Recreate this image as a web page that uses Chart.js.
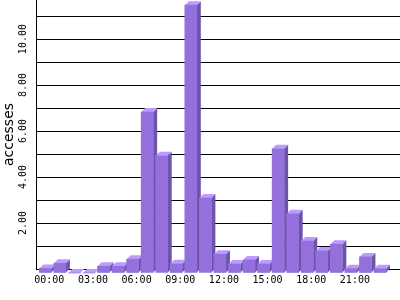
<!DOCTYPE html>
<html>
<head>
<meta charset="utf-8">
<script src="https://cdn.jsdelivr.net/npm/chart.js@4.4.1/dist/chart.umd.min.js"></script>
<style>
  html, body { margin: 0; padding: 0; background: #fff; }
  canvas { display: block; }
</style>
</head>
<body>
<canvas id="barChart" width="400" height="300"></canvas>
<script>
// accesses per hour of day
const hourLabels = ['00:00', '01:00', '02:00', '03:00', '04:00', '05:00', '06:00', '07:00',
                    '08:00', '09:00', '10:00', '11:00', '12:00', '13:00', '14:00', '15:00',
                    '16:00', '17:00', '18:00', '19:00', '20:00', '21:00', '22:00', '23:00'];
const accesses = [0.2, 0.42, 0, 0, 0.29, 0.29, 0.6, 7.0,
                  5.1, 0.4, 11.65, 3.26, 0.82, 0.39, 0.57, 0.39,
                  5.4, 2.58, 1.39, 0.96, 1.25, 0.19, 0.7, 0.19];
const xTickLabels = ['00:00', '03:00', '06:00', '09:00', '12:00', '15:00', '18:00', '21:00'];
const yGridValues = [0, 1, 2, 3, 4, 5, 6, 7, 8, 9, 10, 11];
const yTickValues = [2, 4, 6, 8, 10];

const DEPTH = 4;
const frontColor = '#9370DB';
const topColor = '#BC9AFF';
const sideColor = '#6C55A9';

// draws top + side faces, then shifts the front faces down/left
const bars3d = {
    id: 'bars3d',
    beforeDatasetsDraw(chart) {
        const ctx = chart.ctx;
        const meta = chart.getDatasetMeta(0);
        ctx.save();
        meta.data.forEach(bar => {
            const p = bar.getProps(['x', 'y', 'base', 'width'], true);
            const xl = p.x - p.width / 2;
            const xr = p.x + p.width / 2;
            ctx.fillStyle = sideColor;
            ctx.beginPath();
            ctx.moveTo(xr - DEPTH, p.y + DEPTH);
            ctx.lineTo(xr, p.y);
            ctx.lineTo(xr, p.base);
            ctx.lineTo(xr - DEPTH, p.base + DEPTH);
            ctx.closePath();
            ctx.fill();
            ctx.fillStyle = topColor;
            ctx.beginPath();
            ctx.moveTo(xl - DEPTH, p.y + DEPTH);
            ctx.lineTo(xl, p.y);
            ctx.lineTo(xr, p.y);
            ctx.lineTo(xr - DEPTH, p.y + DEPTH);
            ctx.closePath();
            ctx.fill();
        });
        ctx.restore();
        ctx.save();
        ctx.translate(-DEPTH, DEPTH);
    },
    afterDatasetsDraw(chart) {
        chart.ctx.restore();
    }
};

// y tick labels are drawn rotated
const rotatedYTicks = {
    id: 'rotatedYTicks',
    afterDraw(chart) {
        const ctx = chart.ctx;
        const yScale = chart.scales.y;
        ctx.save();
        ctx.fillStyle = '#000';
        ctx.font = '10px "DejaVu Sans Mono"';
        ctx.textAlign = 'center';
        ctx.textBaseline = 'middle';
        yTickValues.forEach(v => {
            ctx.save();
            ctx.translate(23, yScale.getPixelForValue(v));
            ctx.rotate(-Math.PI / 2);
            ctx.fillText(v.toFixed(2), 0, 0);
            ctx.restore();
        });
        ctx.restore();
    }
};

const ctx = document.getElementById('barChart').getContext('2d');
const myChart = new Chart(ctx, {
    type: 'bar',
    data: {
        datasets: [{
            label: 'accesses',
            data: accesses.map((v, i) => ({ x: i, y: v })),
            backgroundColor: frontColor,
            borderWidth: 0,
            barThickness: 12,
            clip: false
        }]
    },
    options: {
        responsive: false,
        animation: false,
        devicePixelRatio: 1,
        layout: { padding: 0 },
        plugins: {
            legend: { display: false },
            tooltip: { enabled: false }
        },
        scales: {
            x: {
                type: 'linear',
                offset: false,
                min: -0.914,
                max: 24.1,
                afterFit: scale => { scale.height = 31; },
                afterBuildTicks: scale => {
                    scale.ticks = xTickLabels.map(l => ({ value: hourLabels.indexOf(l) }));
                },
                grid: { display: false, drawTicks: false },
                border: { display: true, color: '#000', width: 1 },
                ticks: {
                    padding: 5,
                    color: '#000',
                    maxRotation: 0,
                    autoSkip: false,
                    font: { family: '"DejaVu Sans Mono"', size: 10 },
                    callback: value => hourLabels[value]
                }
            },
            y: {
                min: 0,
                max: 11.7,
                afterFit: scale => { scale.width = 36; },
                afterBuildTicks: scale => {
                    scale.ticks = yGridValues.map(v => ({ value: v }));
                },
                grid: { color: '#000', lineWidth: 1, drawTicks: false },
                border: { display: true, color: '#000', width: 1 },
                ticks: { display: false },
                title: {
                    display: true,
                    text: 'accesses',
                    color: '#000',
                    padding: { top: 1, bottom: 0 },
                    font: { family: '"DejaVu Sans"', size: 14 }
                }
            }
        }
    },
    plugins: [bars3d, rotatedYTicks]
});
</script>
</body>
</html>
